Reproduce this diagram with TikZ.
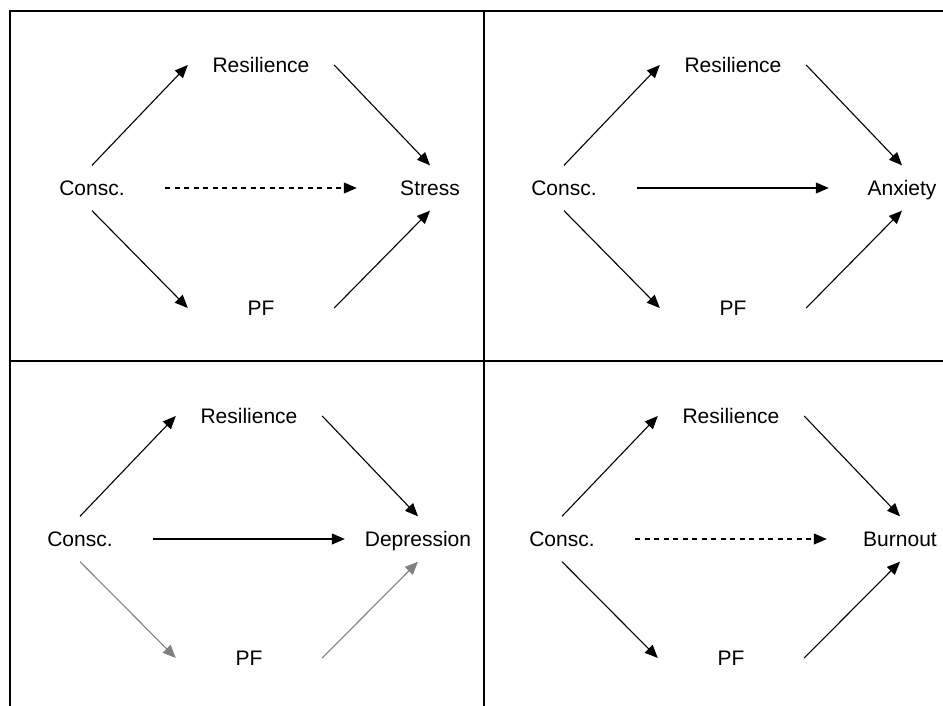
\documentclass[tikz,border=0pt]{standalone}
\usepackage{fontspec}
\setmainfont{Liberation Sans}
\usetikzlibrary{arrows.meta}
\definecolor{pfgray}{RGB}{128,128,128}

\tikzset{
  var/.style={inner sep=0pt, minimum width=146pt, minimum height=45pt,
    text height=15pt, text depth=0pt, font=\fontsize{21}{25}\selectfont},
  link/.style={line width=1.1pt, -{Triangle[length=13pt,width=11pt]}},
  nonsig/.style={link, dash pattern=on 5pt off 4.5pt},
  weak/.style={link, color=pfgray},
  frame/.style={line width=2pt}
}

\begin{document}
\begin{tikzpicture}[x=1pt,y=-1pt]

\useasboundingbox (0,0) rectangle (943,706);

%frame:
\draw[frame] (9.5,706) -- (9.5,11) -- (943,11);
\draw[frame] (484,11) -- (484,706);
\draw[frame] (9.5,361) -- (943,361);

%stress
\node[var] (c1) at (92,188) {Consc.};
\node[var] (r1) at (261,65) {Resilience};
\node[var] (p1) at (261,308) {PF};
\node[var] (o1) at (430,188) {Stress};
\draw[link] (c1.north) -- (r1.west);
\draw[link] (r1.east) -- (o1.north);
\draw[nonsig] (c1.east) -- (o1.west);
\draw[link] (c1.south) -- (p1.west);
\draw[link] (p1.east) -- (o1.south);

%anxiety
\node[var] (c2) at (564,188) {Consc.};
\node[var] (r2) at (733,65) {Resilience};
\node[var] (p2) at (733,308) {PF};
\node[var] (o2) at (902,188) {Anxiety};
\draw[link] (c2.north) -- (r2.west);
\draw[link] (r2.east) -- (o2.north);
\draw[link] (c2.east) -- (o2.west);
\draw[link] (c2.south) -- (p2.west);
\draw[link] (p2.east) -- (o2.south);

%depression
\node[var] (c3) at (80,539) {Consc.};
\node[var] (r3) at (249,416) {Resilience};
\node[var] (p3) at (249,658) {PF};
\node[var] (o3) at (418,539) {Depression};
\draw[link] (c3.north) -- (r3.west);
\draw[link] (r3.east) -- (o3.north);
\draw[link] (c3.east) -- (o3.west);
\draw[weak] (c3.south) -- (p3.west);
\draw[weak] (p3.east) -- (o3.south);

%burnout
\node[var] (c4) at (562,539) {Consc.};
\node[var] (r4) at (731,416) {Resilience};
\node[var] (p4) at (731,658) {PF};
\node[var] (o4) at (900,539) {Burnout};
\draw[link] (c4.north) -- (r4.west);
\draw[link] (r4.east) -- (o4.north);
\draw[nonsig] (c4.east) -- (o4.west);
\draw[link] (c4.south) -- (p4.west);
\draw[link] (p4.east) -- (o4.south);

\end{tikzpicture}
\end{document}
